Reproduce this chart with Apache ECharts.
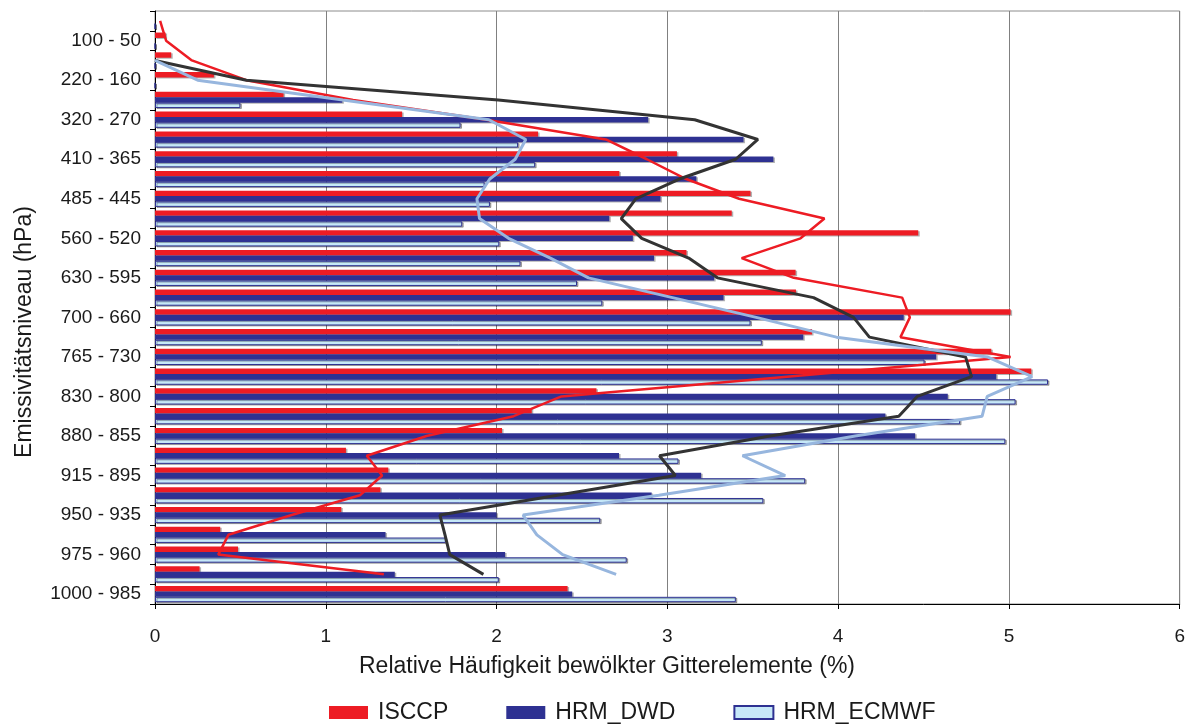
<!DOCTYPE html>
<html>
<head>
<meta charset="utf-8">
<script src="https://cdn.jsdelivr.net/npm/echarts@6/dist/echarts.min.js"></script>
<style>
html,body{margin:0;padding:0;background:#fff;}
#chart{width:1188px;height:728px;}
</style>
</head>
<body>
<div id="chart"></div>
<script>
// Pressure bands (top to bottom); only every second one is labelled
var categories = ["50 - 0","100 - 50","160 - 100","220 - 160","270 - 220","320 - 270","365 - 320","410 - 365","445 - 410","485 - 445","520 - 485","560 - 520","595 - 560","630 - 595","660 - 630","700 - 660","730 - 700","765 - 730","800 - 765","830 - 800","855 - 830","880 - 855","895 - 880","915 - 895","935 - 915","950 - 935","960 - 950","975 - 960","985 - 975","1000 - 985"];

// Bars (%)
var isccp = [0, 0.062, 0.095, 0.345, 0.753, 1.447, 2.243, 3.056, 2.719, 3.487, 3.377, 4.469, 3.112, 3.751, 3.753, 5.01, 3.847, 4.897, 5.131, 2.585, 2.206, 2.032, 1.118, 1.366, 1.32, 1.091, 0.382, 0.486, 0.261, 2.416];
var hrmDwd = [0, 0, 0, 0, 1.097, 2.888, 3.446, 3.621, 3.17, 2.96, 2.66, 2.798, 2.922, 3.274, 3.329, 4.384, 3.796, 4.574, 4.926, 4.642, 4.277, 4.451, 2.717, 3.198, 2.908, 2.0, 1.35, 2.05, 1.404, 2.443];
var hrmEcmwf = [0, 0, 0, 0, 0.5, 1.789, 2.126, 2.226, 1.93, 1.961, 1.799, 2.016, 2.14, 2.471, 2.619, 3.487, 3.553, 4.506, 5.229, 5.039, 4.714, 4.979, 3.065, 3.807, 3.562, 2.607, 1.703, 2.762, 2.013, 3.401];

// Overlaid profile lines (%)
var isccpLine = [0.03, 0.065, 0.216, 0.535, 1.16, 1.94, 2.64, 2.88, 3.11, 3.42, 3.92, 3.78, 3.435, 3.74, 4.375, 4.42, 4.365, 5.01, 3.70, 2.38, 2.10, 1.59, 1.24, 1.33, 1.20, 0.80, 0.43, 0.37, 1.34, null];
var dwdLine = [null, null, 0, 0.535, 2.01, 3.16, 3.53, 3.40, 3.07, 2.815, 2.73, 2.85, 3.125, 3.293, 3.856, 4.09, 4.183, 4.746, 4.781, 4.463, 4.355, 3.60, 2.954, 3.047, 2.356, 1.668, 1.698, 1.726, 1.923, null];
var ecmwfLine = [null, null, 0, 0.25, 1.10, 1.955, 2.171, 2.109, 1.96, 1.885, 1.90, 2.07, 2.315, 2.538, 3.03, 3.52, 3.99, 4.873, 5.136, 4.873, 4.843, 4.10, 3.44, 3.69, 2.95, 2.155, 2.236, 2.387, 2.70, null];

var xTicks = [0, 1, 2, 3, 4, 5, 6];

var FONT = 'Liberation Sans';
var chart = echarts.init(document.getElementById('chart'), null, {renderer: 'canvas'});

function barSeries(name, data, color, border) {
  return {
    name: name, type: 'bar', data: data, barWidth: 5.4, barGap: '0%',
    itemStyle: {
      color: color,
      borderColor: border || color,
      borderWidth: border ? 1 : 0,
      shadowColor: 'rgba(0,0,0,0.3)', shadowOffsetX: 1.5, shadowOffsetY: 1, shadowBlur: 0
    },
    z: 2
  };
}
function lineSeries(name, data, color, w) {
  return {
    name: name, type: 'line', data: data, symbol: 'none', connectNulls: false,
    lineStyle: {color: color, width: w}, itemStyle: {color: color}, z: 5
  };
}

chart.setOption({
  animation: false,
  textStyle: {fontFamily: FONT},
  grid: {left: 155, right: 8, top: 11, bottom: 124, show: true, borderColor: '#8c8c8c', borderWidth: 1},
  legend: {
    data: ['ISCCP', 'HRM_DWD', 'HRM_ECMWF'],
    left: 329, top: 701, padding: 0, itemWidth: 39, itemHeight: 13, itemGap: 58,
    icon: 'rect',
    textStyle: {fontFamily: FONT, fontSize: 23, color: '#1a1a1a', padding: [0, 0, 0, 5]}
  },
  xAxis: {
    type: 'value', min: xTicks[0], max: xTicks[xTicks.length - 1], interval: 1,
    axisLine: {show: true, lineStyle: {color: '#000', width: 1}},
    axisTick: {show: true, length: 5, lineStyle: {color: '#000'}},
    axisLabel: {fontFamily: FONT, fontSize: 19, color: '#1a1a1a', margin: 23},
    splitLine: {show: true, lineStyle: {color: '#808080', width: 1}}
  },
  yAxis: {
    type: 'category', inverse: true, data: categories,
    axisLine: {show: true, lineStyle: {color: '#000', width: 1}},
    axisTick: {show: true, interval: 0, length: 5, lineStyle: {color: '#000'}},
    axisLabel: {
      interval: function (i) { return i % 2 === 1; },
      fontFamily: FONT, fontSize: 19, color: '#1a1a1a', margin: 14
    },
    splitLine: {show: false}
  },
  graphic: [
    {type: 'text', x: 25, y: 332, rotation: Math.PI / 2,
     style: {text: 'Emissivitätsniveau (hPa)', fontFamily: FONT, fontSize: 23, fill: '#1a1a1a', textAlign: 'center', textVerticalAlign: 'middle'}},
    {type: 'text', x: 607, y: 667,
     style: {text: 'Relative Häufigkeit bewölkter Gitterelemente (%)', fontFamily: FONT, fontSize: 23, fill: '#1a1a1a', textAlign: 'center', textVerticalAlign: 'middle'}}
  ],
  series: [
    barSeries('ISCCP', isccp, '#ED1C24'),
    barSeries('HRM_DWD', hrmDwd, '#2E3192'),
    barSeries('HRM_ECMWF', hrmEcmwf, '#C6E8F8', '#2E3192'),
    lineSeries('ISCCP Profil', isccpLine, '#ED1C24', 2.5),
    lineSeries('HRM_DWD Profil', dwdLine, '#333333', 3),
    lineSeries('HRM_ECMWF Profil', ecmwfLine, '#97B6DE', 3)
  ]
});
</script>
</body>
</html>
